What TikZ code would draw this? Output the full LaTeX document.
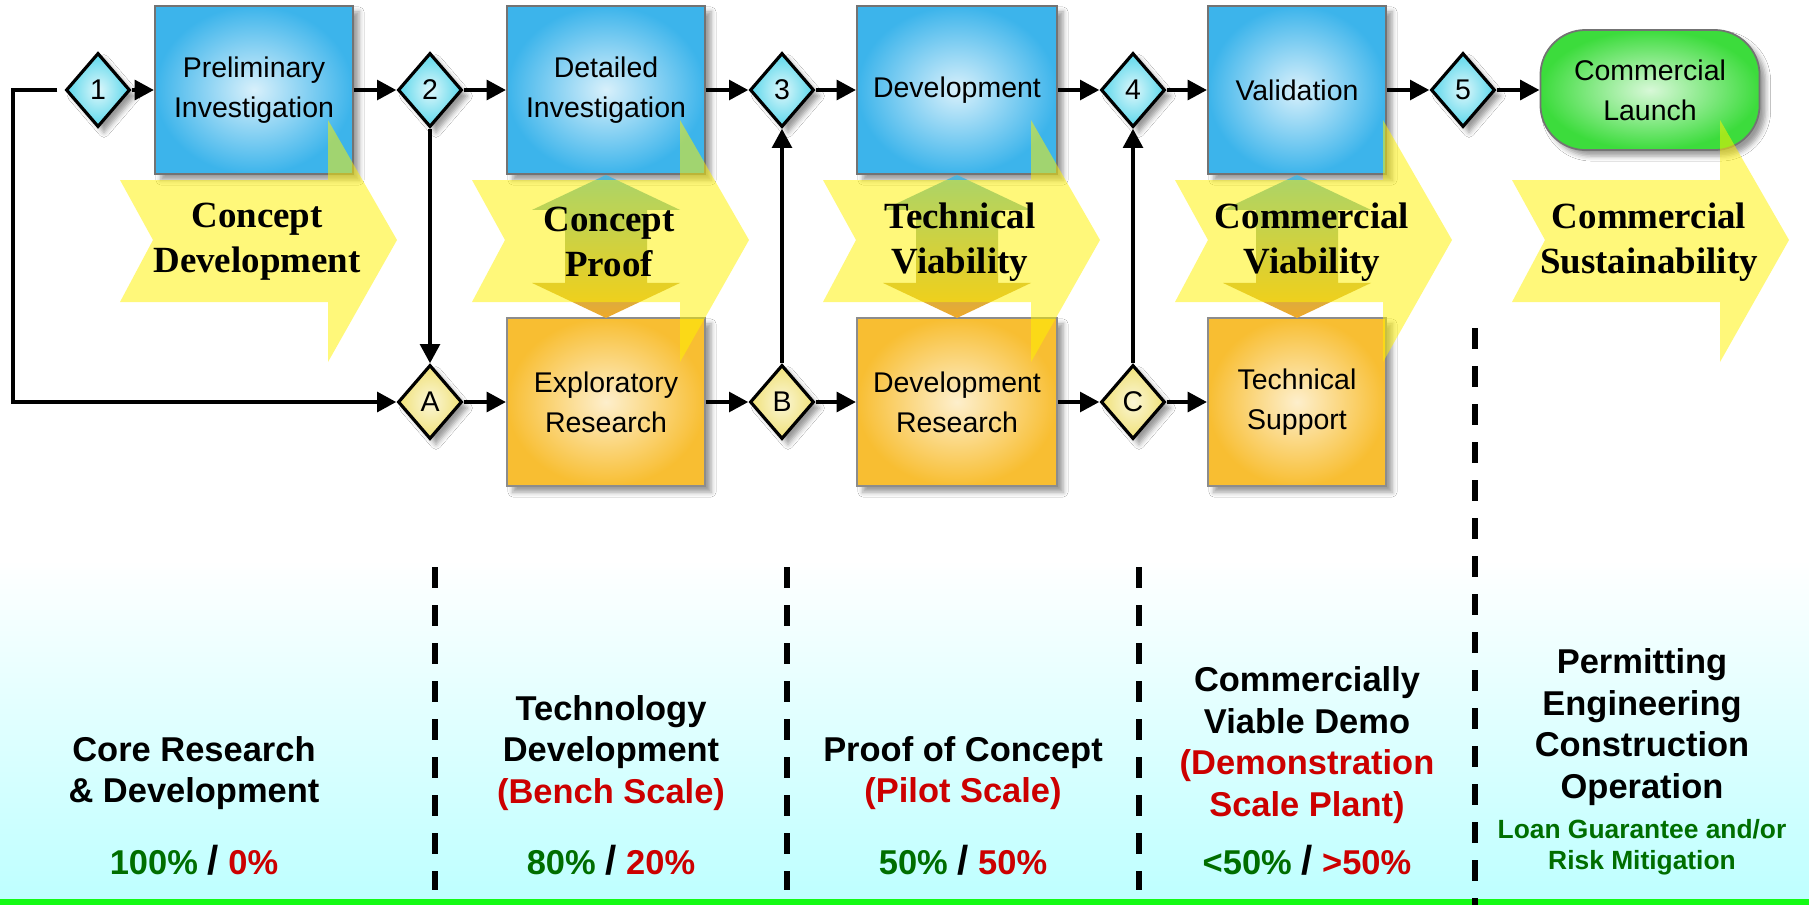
\documentclass[tikz,border=0pt]{standalone}
\usepackage{fontspec}
\setmainfont{Liberation Sans}
\newfontfamily\stagefont{Liberation Serif}
\usepackage{xcolor}
\usepackage{tikz}
\usetikzlibrary{arrows.meta}
\usetikzlibrary{shapes.geometric}
\usetikzlibrary{shadows.blur}
\definecolor{boxblue}{HTML}{3CB4EB}
\definecolor{boxorange}{HTML}{F8BE32}
\definecolor{gatecyan}{HTML}{5AD7EB}
\definecolor{gateyellow}{HTML}{F0E178}
\definecolor{launchgreen}{HTML}{3CDC3C}
\definecolor{linkblue}{HTML}{50B4DC}
\definecolor{linkorange}{HTML}{F0AA28}
\definecolor{sharegreen}{HTML}{006E00}
\definecolor{sharered}{HTML}{CC0000}
\definecolor{floorcyan}{HTML}{BEFFFF}
\definecolor{floorgreen}{HTML}{14FA14}

\newcommand{\slashsep}{{\fontsize{11.5}{12}\selectfont /}}

\tikzset{
  softshadow/.style={blur shadow={shadow xshift=0.06cm, shadow yshift=-0.06cm, shadow blur radius=0.05cm, shadow opacity=40}},
  stagebox/.style={rectangle, line width=0.5pt, minimum height=1.68cm, inner sep=0pt, align=center,
    font=\fontsize{8.1}{11.4}\selectfont, softshadow},
  bluebox/.style={stagebox, draw=black!55, inner color=white!80!boxblue, outer color=boxblue},
  orangebox/.style={stagebox, draw=black!45, inner color=white!75!boxorange, outer color=boxorange},
  launch/.style={stagebox, draw=black!55, rounded corners=0.45cm, minimum width=2.19cm, minimum height=1.2cm,
    inner color=white!80!launchgreen, outer color=launchgreen},
  gate/.style={diamond, draw=black, line width=0.9pt, minimum width=0.64cm, minimum height=0.74cm, inner sep=0pt,
    font=\fontsize{8.1}{9}\selectfont, softshadow},
  cyangate/.style={inner color=white!80!gatecyan, outer color=gatecyan},
  yellowgate/.style={inner color=white!70!gateyellow, outer color=gateyellow},
  flow/.style={line width=1.3pt, -{Triangle[length=5.5pt,width=5.5pt]}},
  feedback/.style={line width=1.4pt, -{Triangle[length=5.5pt,width=5.5pt]}},
  stagefill/.style={fill=yellow, fill opacity=0.52},
  stagetext/.style={align=center, font=\stagefont\bfseries\fontsize{10.5}{12.8}\selectfont},
  divider/.style={line width=0.06cm, dash pattern=on 0.21cm off 0.17cm},
  share/.style={align=center, font=\bfseries\fontsize{9.8}{11.9}\selectfont},
  aid/.style={align=center, text=sharegreen, font=\bfseries\fontsize{7.5}{8.8}\selectfont}
}

\begin{document}
\begin{tikzpicture}[thick, x=0.01cm, y=-0.01cm]
\useasboundingbox (0,0) rectangle (1809,905);
\fill[white] (0,0) rectangle (1809,905);
\shade[top color=white, bottom color=floorcyan] (0,560) rectangle (1809,899);
\fill[floorgreen] (0,899) rectangle (1809,905);

% top and bottom rows of boxes
\node[bluebox, minimum width=1.98cm] (prelim) at (254,90) {Preliminary\\Investigation};
\node[bluebox, minimum width=1.98cm] (detail) at (606,90) {Detailed\\Investigation};
\node[bluebox, minimum width=2.00cm] (develop) at (957,90) {Development};
\node[bluebox, minimum width=1.78cm] (valid) at (1297,90) {Validation};
\node[launch] (launch) at (1650,90) {Commercial\\Launch};
\node[orangebox, minimum width=1.98cm] (explore) at (606,402) {Exploratory\\Research};
\node[orangebox, minimum width=2.00cm] (devres) at (957,402) {Development\\Research};
\node[orangebox, minimum width=1.78cm] (support) at (1297,402) {Technical\\Support};

% decision gates
\foreach \g/\x in {1/98, 2/430, 3/782, 4/1133, 5/1463}
    \node[gate, cyangate] (g\g) at (\x,90) {\g};
\foreach \g/\x in {A/430, B/782, C/1133}
    \node[gate, yellowgate] (g\g) at (\x,402) {\g};

% two-way arrows between the rows
\foreach \t in {detail, develop, valid}
    \shade[top color=linkblue, bottom color=linkorange] (\t.south) -- ++(74,35) -- ++(-33,0) -- ++(0,73) -- ++(33,0)
        -- ++(-74,35) -- ++(-74,-35) -- ++(33,0) -- ++(0,-73) -- ++(-33,0) -- cycle;

% stage arrows
\foreach \l/\ltext [count=\i] in {120/{Concept\\Development}, 472/{Concept\\Proof}, 823/{Technical\\Viability},
        1175/{Commercial\\Viability}, 1512/{Commercial\\Sustainability}}
{
    \fill[stagefill] (\l,180) -- ++(208,0) -- ++(0,-60) -- ++(69,120) -- ++(-69,122) -- ++(0,-60) -- ++(-208,0) -- ++(33,-62) -- cycle;
    \node[stagetext] (stage\i) at ({\l+137},242) {\ltext};
}

% connectors
\foreach \a/\b in {g1/prelim, prelim/g2, g2/detail, detail/g3, g3/develop, develop/g4, g4/valid, valid/g5, g5/launch,
        gA/explore, explore/gB, gB/devres, devres/gC, gC/support, g2/gA, gB/g3, gC/g4}
    \draw[flow] (\a) -- (\b);
\coordinate (back) at (13,90);
\draw[feedback] ([xshift=-0.07cm]g1.west) -- (back) |- (gA.west);

% funding split
\foreach \x in {435, 787, 1139}
    \draw[divider] (\x,567) -- (\x,890);
\draw[divider] (1475,328) -- (1475,905);

\node[share] (core) at (194,773) {Core Research\\\& Development};
\node[share] (corepct) at (194,860) {\textcolor{sharegreen}{100\%} \slashsep{} \textcolor{sharered}{0\%}};
\node[share] (bench) at (611,753) {Technology\\Development\\\textcolor{sharered}{(Bench Scale)}};
\node[share] (benchpct) at (611,860) {\textcolor{sharegreen}{80\%} \slashsep{} \textcolor{sharered}{20\%}};
\node[share] (pilot) at (963,773) {Proof of Concept\\\textcolor{sharered}{(Pilot Scale)}};
\node[share] (pilotpct) at (963,860) {\textcolor{sharegreen}{50\%} \slashsep{} \textcolor{sharered}{50\%}};
\node[share] (demo) at (1307,745) {Commercially\\Viable Demo\\\textcolor{sharered}{(Demonstration}\\\textcolor{sharered}{Scale Plant)}};
\node[share] (demopct) at (1307,860) {\textcolor{sharegreen}{<50\%} \slashsep{} \textcolor{sharered}{>50\%}};
\node[share] (plant) at (1642,727) {Permitting\\Engineering\\Construction\\Operation};
\node[aid] (loan) at (1642,847) {Loan Guarantee and/or\\Risk Mitigation};
\end{tikzpicture}
\end{document}
